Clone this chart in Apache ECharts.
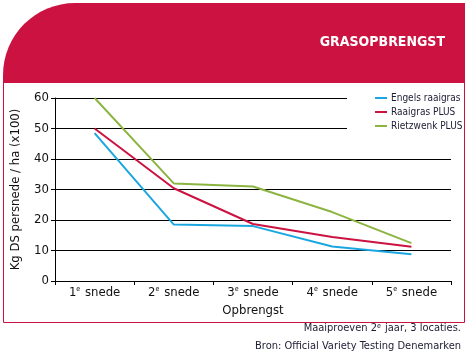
<!DOCTYPE html>
<html><head><meta charset="utf-8">
<script src="https://cdn.jsdelivr.net/npm/echarts@6/dist/echarts.min.js"></script>
<style>html,body{margin:0;padding:0;background:#fff}#c{width:468px;height:358px}</style>
</head><body><div id="c"></div>
<script>
var categories = ['1', '2', '3', '4', '5'];
var seriesNames = ['Engels raaigras', 'Raaigras PLUS', 'Rietzwenk PLUS'];
var engels = [48.5, 18.5, 18.0, 11.3, 8.8];
var raaigrasPlus = [50.0, 30.4, 18.7, 14.4, 11.2];
var rietzwenkPlus = [60.0, 32.0, 31.0, 22.6, 12.4];
var yTicks = [0, 10, 20, 30, 40, 50, 60];

var FONT = '"Liberation Sans Narrow", "DejaVu Sans Condensed", sans-serif';
var RED = '#cc1241';
var INK = '#1c1c33';
var chart = echarts.init(document.getElementById('c'));
chart.setOption({
  animation: false,
  textStyle: { fontFamily: FONT },
  graphic: [
    { type: 'rect', shape: { x: 3, y: 3, width: 462, height: 80, r: [72, 0, 0, 0] }, style: { fill: RED }, z: 0 },
    { type: 'polyline', shape: { points: [[3.5, 83], [3.5, 322.5], [464.5, 322.5], [464.5, 83]] }, style: { stroke: RED, lineWidth: 1, fill: null }, z: 20 },
    { type: 'text', right: 23, top: 35, style: { text: 'GRASOPBRENGST', fill: '#fff', font: 'bold 14px ' + FONT }, z: 1 },
    { type: 'text', right: 7, top: 323, style: { text: 'Maaiproeven 2{s|e} jaar, 3 locaties.', fill: INK, font: '11px ' + FONT, rich: { s: { fontSize: 7, verticalAlign: 'top', padding: [0, 1, 4, 0], fill: INK, fontFamily: FONT } } }, z: 1 },
    { type: 'text', right: 7, top: 341, style: { text: 'Bron: Official Variety Testing Denemarken', fill: INK, font: '11px ' + FONT }, z: 1 }
  ],
  legend: {
    orient: 'vertical', left: 347, top: 89,
    padding: [2, 4, 4, 28],
    backgroundColor: '#fff',
    itemGap: 0, itemWidth: 12, itemHeight: 2, icon: 'rect',
    textStyle: { fontFamily: '"DejaVu Sans Condensed", "Liberation Sans Narrow", sans-serif', fontSize: 10, color: INK, lineHeight: 14, padding: [0, 0, 0, -1] },
    data: seriesNames
  },
  grid: { left: 55, right: 17, top: 98, bottom: 77 },
  xAxis: {
    type: 'category', data: categories, boundaryGap: true,
    name: 'Opbrengst', nameLocation: 'middle', nameGap: 22,
    nameTextStyle: { fontFamily: FONT, fontSize: 13, color: '#111' },
    axisLine: { lineStyle: { color: '#000', width: 1 } },
    axisTick: { show: true, interval: 0, alignWithLabel: false, length: 4, lineStyle: { color: '#000' } },
    axisLabel: {
      interval: 0,
      color: '#111', fontSize: 13, fontFamily: FONT, margin: 5,
      formatter: function (v) { return v + '{s|e} snede'; },
      rich: { s: { fontSize: 7, verticalAlign: 'top', padding: [0, 1, 6, 0], color: '#111', fontFamily: FONT } }
    }
  },
  yAxis: {
    type: 'value', min: yTicks[0], max: yTicks[yTicks.length - 1], interval: 10,
    name: 'Kg DS persnede / ha (x100)', nameLocation: 'middle', nameGap: 33,
    nameTextStyle: { fontFamily: FONT, fontSize: 13, color: '#111' },
    axisLine: { show: true, lineStyle: { color: '#000' } },
    axisTick: { show: true, length: 4, lineStyle: { color: '#000' } },
    axisLabel: { color: '#111', fontSize: 13, fontFamily: FONT, margin: 6 },
    splitLine: { lineStyle: { color: '#000', width: 1 } }
  },
  series: [
    { name: seriesNames[0], type: 'line', data: engels, symbol: 'none', lineStyle: { color: '#1aa7e0', width: 2 }, itemStyle: { color: '#1aa7e0' } },
    { name: seriesNames[1], type: 'line', data: raaigrasPlus, symbol: 'none', lineStyle: { color: RED, width: 2 }, itemStyle: { color: RED } },
    { name: seriesNames[2], type: 'line', data: rietzwenkPlus, symbol: 'none', lineStyle: { color: '#8cb441', width: 2 }, itemStyle: { color: '#8cb441' } }
  ]
});
</script></body></html>
